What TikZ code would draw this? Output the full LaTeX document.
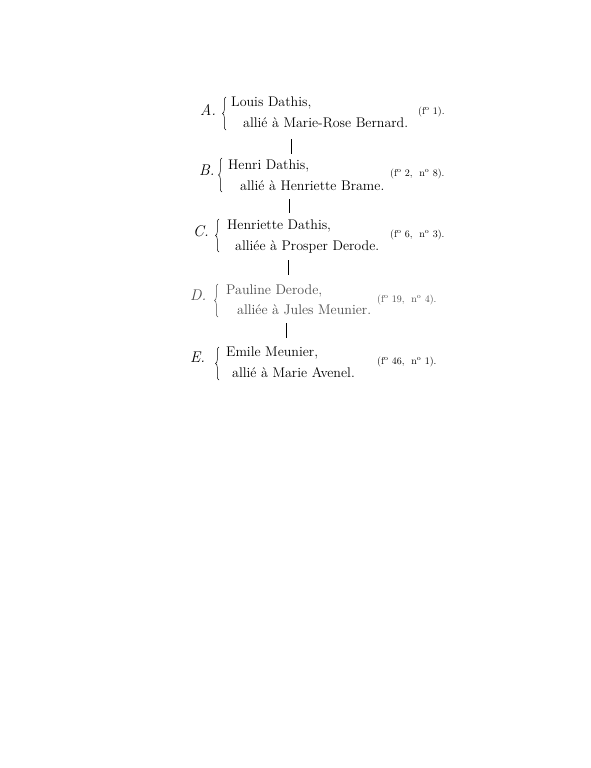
\documentclass[tikz,border=0pt]{standalone}
\usetikzlibrary{decorations.pathreplacing}
\begin{document}
\begin{tikzpicture}[x=1pt,y=-1pt,
    entry/.style={anchor=base west,inner sep=0pt,font=\fontsize{14}{16}\selectfont},
    sigle/.style={anchor=base west,inner sep=0pt,font=\fontsize{15.5}{18}\selectfont\itshape},
    folio/.style={anchor=base west,inner sep=0pt,font=\fontsize{10}{12}\selectfont},
    accolade/.style={decorate,decoration={brace,amplitude=3.5pt},line width=0.5pt},
    trait/.style={line width=1pt}]
        \useasboundingbox (0,0) rectangle (591,768);

        \draw (200,115) node[sigle] (sA) {A.};
        \draw[accolade] (226,130)--(226,97);
        \draw (231,106) node[entry] (pA) {Louis Dathis,};
        \draw (243,127) node[entry] (aA) {alli\'e \`a Marie-Rose Bernard.};
        \draw (418,114) node[folio] (fA) {(f\textsuperscript{o} 1).};

        \draw (199,175) node[sigle] (sB) {B.};
        \draw[accolade] (222,192)--(222,158);
        \draw (228,169) node[entry] (pB) {Henri Dathis,};
        \draw (240,190) node[entry] (aB) {alli\'e \`a Henriette Brame.};
        \draw (390,176) node[folio] (fB) {(f\textsuperscript{o} 2, \ n\textsuperscript{o} 8).};

        \draw (193,236) node[sigle] (sC) {C.};
        \draw[accolade] (219,252)--(219,219);
        \draw (227,229) node[entry] (pC) {Henriette Dathis,};
        \draw (235,250) node[entry] (aC) {alli\'ee \`a Prosper Derode.};
        \draw (390,237) node[folio] (fC) {(f\textsuperscript{o} 6, \ n\textsuperscript{o} 3).};

        \begin{scope}[black!70]
        \draw (190,300) node[sigle] (sD) {D.};
        \draw[accolade] (218,317)--(218,284);
        \draw (226,294) node[entry] (pD) {Pauline Derode,};
        \draw (237,314) node[entry] (aD) {alli\'ee \`a Jules Meunier.};
        \draw (377,302) node[folio] (fD) {(f\textsuperscript{o} 19, \ n\textsuperscript{o} 4).};
        \end{scope}

        \draw (190,362) node[sigle] (sE) {E.};
        \draw[accolade] (219,380)--(219,347);
        \draw (226,356) node[entry] (pE) {Emile Meunier,};
        \draw (232,377) node[entry] (aE) {alli\'e \`a Marie Avenel.};
        \draw (377,364) node[folio] (fE) {(f\textsuperscript{o} 46, \ n\textsuperscript{o} 1).};

        % filiation
        \coordinate (hAB) at (291,139); \coordinate (bAB) at (291,154);
        \coordinate (hBC) at (289,199); \coordinate (bBC) at (289,213);
        \coordinate (hCD) at (288,260); \coordinate (bCD) at (288,275);
        \coordinate (hDE) at (286,323); \coordinate (bDE) at (286,338);
        \draw[trait] (hAB)--(bAB);
        \draw[trait] (hBC)--(bBC);
        \draw[trait] (hCD)--(bCD);
        \draw[trait] (hDE)--(bDE);
    \end{tikzpicture}
\end{document}
